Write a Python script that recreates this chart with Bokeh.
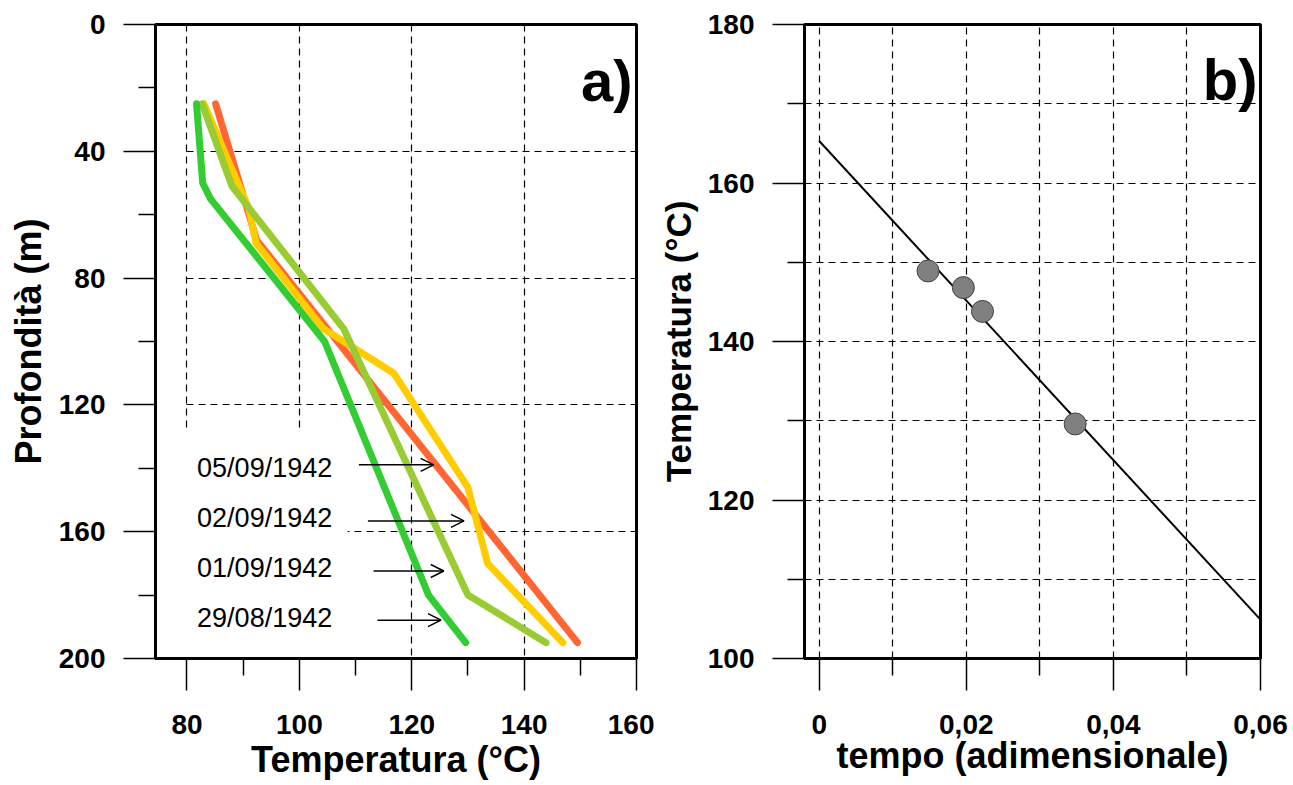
from bokeh.plotting import figure
from bokeh.models import (Range1d, FixedTicker, CustomJSTickFormatter, BoxAnnotation,
                          Arrow, OpenHead, ColumnDataSource, Label, Grid)
from bokeh.layouts import row
from bokeh.embed import file_html
from bokeh.resources import INLINE
from bokeh.core.properties import value

FONT = "Liberation Sans"

# ---------------- panel a) : temperature profiles ----------------
temp_0509 = [85.1, 92.4, 149.5]
depth_0509 = [25, 68, 195]

temp_0209 = [83.0, 91.0, 92.3, 104.3, 116.8, 130.0, 133.5, 146.9]
depth_0209 = [25, 58, 69, 96, 110, 146, 170, 195]

temp_0109 = [82.7, 88.0, 107.9, 130.0, 143.9]
depth_0109 = [25, 51, 96, 180, 195]

temp_2908 = [81.7, 82.8, 84.2, 104.5, 123.0, 129.6]
depth_2908 = [25, 50, 55, 100, 180, 195]

date_labels = ["05/09/1942", "02/09/1942", "01/09/1942", "29/08/1942"]
label_depths = [140.0, 155.8, 171.5, 187.3]
label_temp = 81.8
arrow_start = [110.6, 112.2, 113.2, 113.9]
arrow_end = [123.9, 129.3, 125.7, 125.2]
arrow_depth = [138.9, 156.6, 172.4, 187.9]

a_xticks = [80, 100, 120, 140, 160]
a_xminor = [90, 110, 130, 150]
a_yticks = [0, 40, 80, 120, 160, 200]
a_yminor = [20, 60, 100, 140, 180]
a_xgrid = [80, 100, 120, 140]
a_ygrid = [40, 80, 120, 160]

# ---------------- panel b) : temperature vs time ----------------
tempo = [0.0148, 0.0196, 0.0222, 0.0348]
temperatura = [148.9, 146.8, 143.8, 129.6]
fit_tempo = [0.0, 0.06]
fit_temp = [165.3, 104.9]

b_xticks = [0, 0.02, 0.04, 0.06]
b_xminor = [0.01, 0.03, 0.05]
b_yticks = [100, 120, 140, 160, 180]
b_yminor = [110, 130, 150, 170]
b_xgrid = [0, 0.01, 0.02, 0.03, 0.04, 0.05]
b_ygrid = [110, 120, 130, 140, 150, 160, 170]


def style_axes(p, title_x, title_y, xstand, ystand, ysize="35px", xsize="36px"):
    for ax in (p.xaxis[0], p.yaxis[0]):
        ax.axis_line_width = 3
        ax.axis_line_color = "black"
        ax.major_tick_out = 32
        ax.major_tick_in = 0
        ax.minor_tick_out = 17
        ax.minor_tick_in = 0
        ax.major_tick_line_width = 1.5
        ax.minor_tick_line_width = 1.5
        ax.major_tick_line_color = "black"
        ax.minor_tick_line_color = "black"
        ax.major_label_text_font = FONT
        ax.major_label_text_font_style = "bold"
        ax.major_label_text_font_size = "28px"
        ax.major_label_text_color = "black"
        ax.axis_label_text_font = FONT
        ax.axis_label_text_font_style = "bold"
        ax.axis_label_text_color = "black"
    p.xaxis[0].major_label_standoff = 24
    p.yaxis[0].major_label_standoff = 18
    p.xaxis[0].axis_label_text_font_size = xsize
    p.yaxis[0].axis_label_text_font_size = ysize
    p.xaxis[0].axis_label = title_x
    p.yaxis[0].axis_label = title_y
    p.xaxis[0].axis_label_standoff = xstand
    p.yaxis[0].axis_label_standoff = ystand
    p.outline_line_color = "black"
    p.outline_line_width = 3
    p.outline_line_alpha = 1
    p.background_fill_color = "white"
    p.border_fill_color = "white"


def style_grid(p, xg, yg, ycross=None):
    p.xgrid.ticker = FixedTicker(ticks=xg)
    p.ygrid.ticker = FixedTicker(ticks=yg)
    for g in (p.xgrid[0], p.ygrid[0]):
        g.grid_line_color = "black"
        g.grid_line_width = 1.2
        g.grid_line_dash = "7 5"
    if ycross is not None and "cross_bounds" in Grid.properties():
        p.ygrid[0].cross_bounds = ycross


# ---------------- figure a ----------------
pa = figure(width=654, height=785,
            x_range=Range1d(74.4, 160), y_range=Range1d(200, 0),
            min_border_left=155, min_border_top=24, min_border_right=18,
            min_border_bottom=127,
            output_backend="svg", toolbar_location=None)
pa.xaxis.ticker = FixedTicker(ticks=a_xticks, minor_ticks=a_xminor)
pa.yaxis.ticker = FixedTicker(ticks=a_yticks, minor_ticks=a_yminor)
style_axes(pa, "Temperatura (°C)", "Profondità (m)", 2, 7, ysize="36px")
style_grid(pa, a_xgrid, a_ygrid, ycross=(80, 160))

# white box behind the date labels (hides the grid there)
pa.add_layout(BoxAnnotation(left=75, right=108.6, top=128.5, bottom=199.5,
                            fill_color="white", fill_alpha=1.0, line_alpha=0,
                            level="underlay"))
if "cross_bounds" not in Grid.properties():
    pa.add_layout(BoxAnnotation(left=75, right=80, top=0.5, bottom=199.5,
                                fill_color="white", fill_alpha=1.0, line_alpha=0,
                                level="underlay"))

series = [
    (temp_0509, depth_0509, "#FF6633"),
    (temp_0209, depth_0209, "#FFCC00"),
    (temp_0109, depth_0109, "#99CC33"),
    (temp_2908, depth_2908, "#33CC33"),
]
for xs, ys, col in series:
    pa.line(xs, ys, line_width=7, line_color=col, line_cap="round", line_join="round")

pa.text(x=[label_temp] * len(date_labels), y=label_depths, text=date_labels,
        text_font=value(FONT), text_font_size="27px", text_color="black",
        text_align="left", text_baseline="middle")

arrow_src = ColumnDataSource(dict(x0=arrow_start, x1=arrow_end, y=arrow_depth))
pa.add_layout(Arrow(end=OpenHead(size=13, line_width=1.5, line_color="black"),
                    x_start="x0", y_start="y", x_end="x1", y_end="y",
                    source=arrow_src, line_width=1.5, line_color="black"))

pa.add_layout(Label(x=160, y=17.7, x_offset=-4, text="a)", text_font=FONT,
                    text_font_style="bold", text_font_size="58px",
                    text_align="right", text_baseline="alphabetic", text_color="black"))

# ---------------- figure b ----------------
pb = figure(width=638, height=785,
            x_range=Range1d(-0.002, 0.06), y_range=Range1d(100, 180),
            min_border_left=150, min_border_top=24, min_border_right=32,
            min_border_bottom=120,
            output_backend="svg", toolbar_location=None)
pb.xaxis.ticker = FixedTicker(ticks=b_xticks, minor_ticks=b_xminor)
pb.yaxis.ticker = FixedTicker(ticks=b_yticks, minor_ticks=b_yminor)
pb.xaxis.formatter = CustomJSTickFormatter(
    code="return tick == 0 ? '0' : tick.toFixed(2).replace('.', ',');")
style_axes(pb, "tempo (adimensionale)", "Temperatura (°C)", -2, 7)
style_grid(pb, b_xgrid, b_ygrid)

pb.line(fit_tempo, fit_temp, line_width=2, line_color="black")
pb.scatter(tempo, temperatura, size=22, fill_color="#808080",
           line_color="#404040", line_width=1)

pb.add_layout(Label(x=0.06, y=173.0, x_offset=-3, text="b)", text_font=FONT,
                    text_font_style="bold", text_font_size="58px",
                    text_align="right", text_baseline="alphabetic", text_color="black"))

layout = row(pa, pb)
open("out.html", "w").write(file_html(layout, INLINE))
